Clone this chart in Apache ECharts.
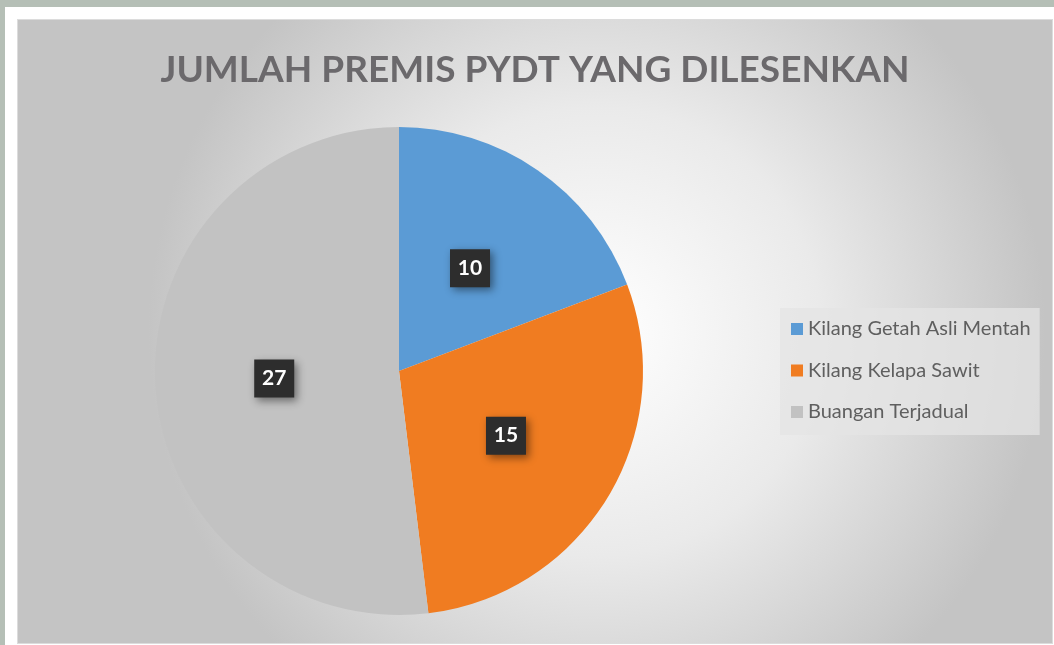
<!DOCTYPE html>
<html>
<head>
<meta charset="utf-8">
<script src="https://cdn.jsdelivr.net/npm/echarts@6/dist/echarts.min.js"></script>
<style>
  html, body { margin: 0; padding: 0; background: #fff; }
  .frame { position: relative; width: 1049px; height: 638px; background: #fff;
    border-top: 7px solid #b5bfb6; border-left: 5px solid #b5bfb6; }
  #chart { position: absolute; left: 13px; top: 13px; width: 1034px; height: 623px;
    box-shadow: 0 0 0 1px #dcdcdc; }
</style>
</head>
<body>
<div class="frame"><div id="chart"></div></div>
<script>
const titleText = 'JUMLAH PREMIS PYDT YANG DILESENKAN'
const categories = ['Kilang Getah Asli Mentah', 'Kilang Kelapa Sawit', 'Buangan Terjadual']
const values = [10, 15, 27]
const colors = ['#5b9bd5', '#f07c21', '#c2c2c2']

const chart = echarts.init(document.getElementById('chart'))

chart.setOption({
  animation: false,
  backgroundColor: new echarts.graphic.RadialGradient(0.56, 0.5, 0.72, [
    { offset: 0, color: '#ffffff' },
    { offset: 0.5, color: '#eaeaea' },
    { offset: 1, color: '#c4c4c4' }
  ]),
  title: {
    text: titleText, left: 'center', top: 27,
    textStyle: { fontFamily: 'Lato', fontWeight: 'bold', fontSize: 37, color: '#6b696c' }
  },
  legend: {
    orient: 'vertical', left: 762, top: 288,
    backgroundColor: 'rgba(228,228,228,0.75)',
    padding: [11, 9, 13, 11],
    itemWidth: 12, itemHeight: 12, itemGap: 21.5, icon: 'rect',
    textStyle: { fontFamily: 'Lato', fontSize: 20, lineHeight: 20, color: '#5f5f5f', width: 222 },
    data: categories
  },
  series: [{
    type: 'pie',
    center: [381, 351],
    radius: 244,
    startAngle: 90,
    clockwise: true,
    color: colors,
    label: {
      show: true, position: 'inside', formatter: '{c}',
      fontFamily: 'Lato', fontWeight: 'bold', fontSize: 21, color: '#fff',
      backgroundColor: '#2d2d2d', width: 40, height: 38, lineHeight: 38, align: 'center',
      shadowBlur: 8, shadowColor: 'rgba(0,0,0,0.45)', shadowOffsetX: 3, shadowOffsetY: 3
    },
    labelLine: { show: false },
    emphasis: { disabled: true },
    data: categories.map((c, i) => ({ name: c, value: values[i] }))
  }]
})
</script>
</body>
</html>
